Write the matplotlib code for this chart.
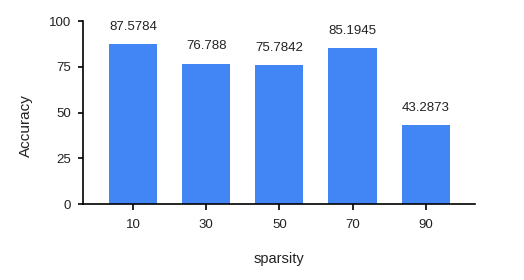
import matplotlib.pyplot as plt

# 数据
sparsity = ["10", "30", "50", "70", "90"]
accuracy = [87.5784, 76.788, 75.7842, 85.1945, 43.2873]
value_labels = ["87.5784", "76.788", "75.7842", "85.1945", "43.2873"]
y_ticks = [0, 25, 50, 75, 100]

plt.rcParams["font.family"] = ["Liberation Sans", "DejaVu Sans"]

fig = plt.figure(figsize=(5.24, 2.8), dpi=100)
ax = fig.add_axes([0.158, 0.271, 0.748, 0.654])

x = list(range(len(sparsity)))
bars = ax.bar(x, accuracy, width=0.66, color="#4285F4", zorder=2)

# 柱子上方的数值
for xi, val, lab in zip(x, accuracy, value_labels):
    ax.annotate(lab, (xi, val), xytext=(0, 8), textcoords="offset points",
                ha="center", va="bottom", fontsize=9.5, color="#222222")

ax.set_xlim(-0.685, 4.67)
ax.set_ylim(0, 100)
ax.set_xticks(x)
ax.set_xticklabels(sparsity)
ax.set_yticks(y_ticks)

for side in ["top", "right"]:
    ax.spines[side].set_visible(False)
for side in ["left", "bottom"]:
    ax.spines[side].set_linewidth(1.2)
    ax.spines[side].set_color("black")
    ax.spines[side].set_zorder(3)

ax.tick_params(axis="x", direction="inout", length=9, width=1.2,
               labelsize=9.5, pad=6.5, labelcolor="#222222")
ax.tick_params(axis="y", direction="out", length=3.6, width=1.2,
               labelsize=9.5, pad=5, labelcolor="#222222")

ax.set_xlabel("sparsity", fontsize=10.5, color="#222222", labelpad=15)
ax.set_ylabel("Accuracy", fontsize=11, color="#222222")
ax.yaxis.set_label_coords(-0.128, 0.43)

fig.savefig("out.png", dpi=100)
